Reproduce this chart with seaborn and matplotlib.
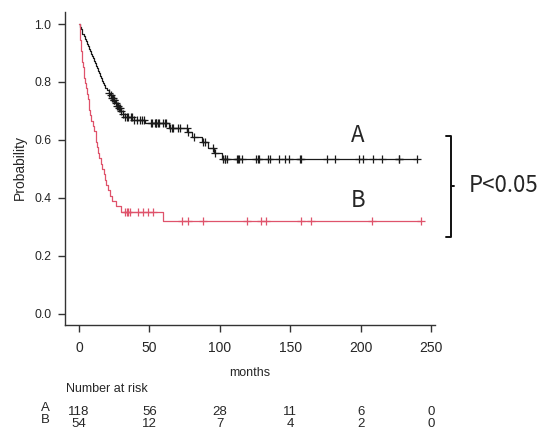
import numpy as np
import pandas as pd
import matplotlib
matplotlib.use("Agg")
import matplotlib.pyplot as plt
from matplotlib.lines import Line2D
import seaborn as sns

# Group A: 118 patients (event / censor times in months)
a_events = [0.5, 1.2, 1.8, 2.5, 3.3, 4.2, 5.0, 5.8, 6.6, 7.3, 8.0, 8.8,
            9.5, 10.2, 10.9, 11.6, 12.3, 13.0, 13.7, 14.4, 15.1, 15.8, 16.5,
            17.2, 17.9, 18.6, 19.8, 21.0, 22.0, 23.0, 24.2, 25.5, 26.8, 28.0,
            29.5, 31.0, 32.5, 38.0, 47.0, 64.0, 77.0, 80.5, 87.5, 91.5, 96.0,
            101.5]
a_censor = [21.5, 22.5, 23.5, 24.0, 24.8, 25.2, 26.0, 27.0, 27.5, 28.5, 29.0,
            30.0, 31.5, 33.0, 34.0, 35.0, 36.6, 37.8, 39.0, 41.0, 43.0, 44.5,
            46.0,
            51.0, 52.0, 54.0, 54.5, 55.0, 56.0, 57.0, 60.0, 61.0, 62.0, 64.6,
            65.8, 67.0, 70.0, 72.0, 76.5, 77.6, 82.0, 88.0, 89.5, 95.0, 96.6,
            102.5, 103.7, 104.0, 105.0, 112.0, 113.0, 114.0, 115.5, 126.0,
            127.0, 128.0, 134.0, 136.0, 142.0, 146.0, 149.0,
            157.0, 158.0, 176.0, 182.0, 199.0,
            202.0, 209.0, 215.0, 227.0, 227.5, 240.0]

# Group B: 54 patients
b_events = [0.5, 0.8, 1.0, 1.3, 1.6, 2.0, 2.4, 2.8, 3.3, 3.7, 4.1, 4.8, 5.5,
            6.2, 6.8, 7.3, 7.8, 8.8, 10.0, 11.0, 11.8, 12.4, 13.0, 13.6, 14.5,
            15.4, 16.5, 17.6, 18.6, 19.5, 20.6, 22.0, 23.5, 26.5, 30.0, 60.0]
b_censor = [33.0, 34.0, 35.0, 36.5, 42.0, 45.5, 49.0, 52.5,
            73.0, 77.6, 88.0, 119.0, 129.0, 133.0, 158.0, 165.0, 208.0, 243.0]

# number at risk table
risk_times = [0, 50, 100, 150, 200, 250]
risk_a = [118, 56, 28, 11, 6, 0]
risk_b = [54, 12, 7, 4, 2, 0]

col_a = "#1a1a1a"
col_b = "#DF536B"


def km_curve(events, censor):
    """Kaplan-Meier step points plus the curve height at each censor time."""
    events = np.array(events)
    censor = np.array(censor)
    all_t = np.concatenate([events, censor])
    s = 1.0
    xs, ys = [0.0], [1.0]
    for t in np.unique(events):
        n = np.sum(all_t >= t)
        d = np.sum(events == t)
        s *= 1 - d / n
        xs.append(t)
        ys.append(s)
    xs.append(all_t.max())
    ys.append(s)
    idx = np.searchsorted(xs[:-1], censor, side="right") - 1
    cy = np.array(ys)[idx]
    return pd.DataFrame({"t": xs, "S": ys}), pd.DataFrame({"t": censor, "S": cy})


sns.set_theme(style="ticks")
plt.rcParams["font.family"] = ["Liberation Sans", "DejaVu Sans"]

fig = plt.figure(figsize=(5.5, 4.45), dpi=100)
ax = fig.add_axes([0.1187, 0.269, 0.6718, 0.703])

for ev, ce, col in [(a_events, a_censor, col_a), (b_events, b_censor, col_b)]:
    curve, marks = km_curve(ev, ce)
    sns.lineplot(data=curve, x="t", y="S", ax=ax, color=col, lw=0.9,
                 drawstyle="steps-post", estimator=None, sort=False)
    sns.scatterplot(data=marks, x="t", y="S", ax=ax, color=col, marker="+",
                    s=40, linewidth=0.9, zorder=3)

ax.set_xlim(-9.72, 252.7)
ax.set_ylim(-0.04, 1.04)
ax.set_xticks(risk_times)
ax.set_yticks([0.0, 0.2, 0.4, 0.6, 0.8, 1.0])
ax.set_yticklabels(["0.0", "0.2", "0.4", "0.6", "0.8", "1.0"])
sns.despine(ax=ax)
for sp in ["left", "bottom"]:
    ax.spines[sp].set_color("#333333")
    ax.spines[sp].set_linewidth(1.0)
ax.tick_params(axis="both", direction="out", length=5, width=1.0, color="#333333")
ax.tick_params(axis="y", labelsize=8.8, pad=5)
ax.tick_params(axis="x", labelsize=10, pad=6)

ax.set_xlabel("months", fontsize=9, va="center")
ax.xaxis.set_label_coords(0.5, -0.1515)
ax.set_ylabel("Probability", fontsize=10, va="center", ha="center")
ax.yaxis.set_label_coords(-0.1226, 0.506)

# group labels on the plot
lab_font = ["Noto Sans CJK JP", "DejaVu Sans"]
ax.text(198, 0.616, "A", fontsize=16, ha="center", va="center", family=lab_font)
ax.text(198, 0.392, "B", fontsize=16, ha="center", va="center", family=lab_font)

# bracket with p value
x0, x1 = 0.8109, 0.8195
y_top, y_bot, y_mid = 0.6944, 0.4681, 0.582
fig.add_artist(Line2D([x0, x1, x1, x0], [y_top, y_top, y_bot, y_bot],
                      color="#111111", lw=1.4))
fig.add_artist(Line2D([x1, x1 + 0.006], [y_mid, y_mid], color="#111111", lw=1.4))
fig.text(0.8527, 0.5827, "P<0.05", fontsize=16, ha="left", va="center",
         family=lab_font)

# number at risk table
fig.text(0.12, 0.1258, "Number at risk", fontsize=9, ha="left", va="center")
trans = ax.get_xaxis_transform()
for label, counts, fy, ly in [("A", risk_a, 0.0742, 0.0831), ("B", risk_b, 0.0472, 0.0573)]:
    fig.text(0.0818, ly, label, fontsize=9.5, ha="center", va="center")
    for t, n in zip(risk_times, counts):
        ax_y = (fy - 0.269) / 0.703
        ax.text(t, ax_y, str(n), fontsize=9.5, ha="center", va="center",
                transform=trans, clip_on=False)

fig.savefig("out.png", dpi=100)
